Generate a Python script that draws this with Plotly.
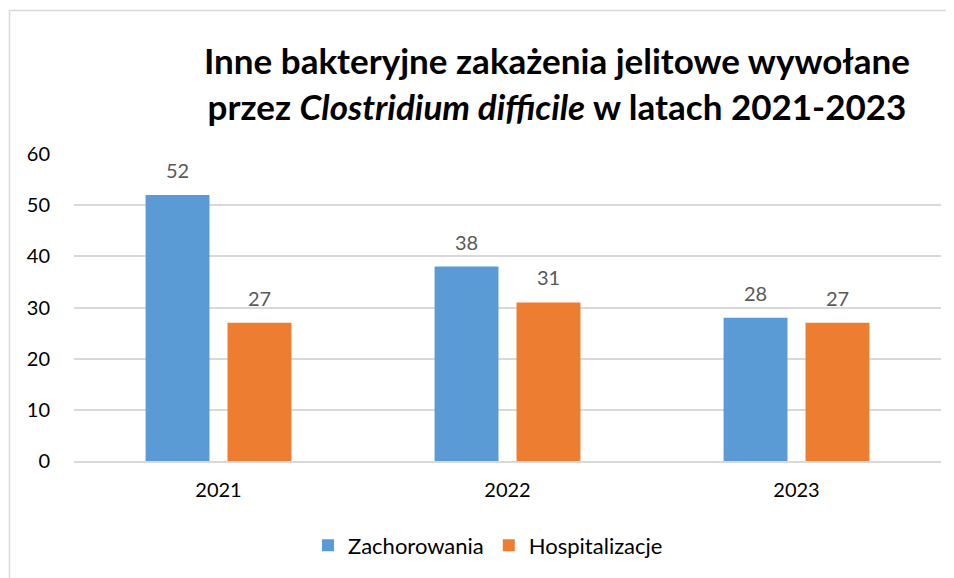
import plotly.graph_objects as go

years = ["2021", "2022", "2023"]
zachorowania = [52, 38, 28]
hospitalizacje = [27, 31, 27]
series_names = ["Zachorowania", "Hospitalizacje"]
colors = ["#5B9BD5", "#ED7D31"]
title_lines = ["Inne bakteryjne zakażenia jelitowe wywołane",
               "przez <i>Clostridium difficile</i> w latach 2021-2023"]

FONT = "Lato, 'Open Sans', sans-serif"
OFF = 8  # page body margin
W, H = 954 - OFF, 578 - OFF
# plot area in window px: left 74, top 154, right 941, bottom 463
L, T = 74 - OFF, 154 - OFF
R = W - (941 - OFF)
B = H - (463 - OFF)
pw, ph = W - L - R, H - T - B


def px_x(wx):
    return (wx - OFF - L) / pw


def px_y(wy):
    return (H - B - (wy - OFF)) / ph


fig = go.Figure()
for name, vals, col in zip(series_names, [zachorowania, hospitalizacje], colors):
    fig.add_trace(go.Bar(x=years, y=vals, name=name, marker=dict(color=col, line=dict(width=0))))

# data labels (category index positions, shifted onto each bar of the group)
for vals, shift in zip([zachorowania, hospitalizacje], [-41, 41]):
    for i, v in enumerate(vals):
        fig.add_annotation(x=i, y=v, xref="x", yref="y", text=str(v), showarrow=False,
                           xshift=shift, yshift=25, font=dict(family=FONT, size=20, color="#595959"))

fig.add_annotation(x=px_x(557), y=px_y(83), xref="paper", yref="paper",
                   text="<b>" + "<br>".join(title_lines) + "</b>", showarrow=False,
                   xanchor="center", yanchor="middle",
                   font=dict(family=FONT, size=35, color="#000000"))

# chart border
fig.add_shape(type="rect", xref="paper", yref="paper",
              x0=px_x(9.5), x1=px_x(990),
              y0=px_y(620), y1=px_y(9.5),
              line=dict(color="#D9D9D9", width=1.5), fillcolor="rgba(0,0,0,0)", layer="below")

fig.update_layout(
    width=W, height=H,
    margin=dict(l=L, r=R, t=T, b=B),
    paper_bgcolor="white", plot_bgcolor="white",
    barmode="group", bargap=0.433, bargroupgap=0.22,
    font=dict(family=FONT, size=20, color="#000000"),
    showlegend=True,
    legend=dict(orientation="h", x=px_x(488), xanchor="center",
                y=px_y(548), yanchor="middle",
                font=dict(family=FONT, size=22, color="#000000")),
    xaxis=dict(type="category", range=[-0.5, len(years) - 0.5], showgrid=False,
               showline=True, linecolor="#D9D9D9", linewidth=1.5,
               ticks="", ticklabelstandoff=10, tickfont=dict(size=20)),
    yaxis=dict(range=[0, 60], dtick=10, showgrid=True, gridcolor="#D9D9D9", gridwidth=1.5,
               zeroline=False, showline=False, ticks="", ticklabelstandoff=23,
               tickfont=dict(size=20)),
)

fig.write_html("out.html")
